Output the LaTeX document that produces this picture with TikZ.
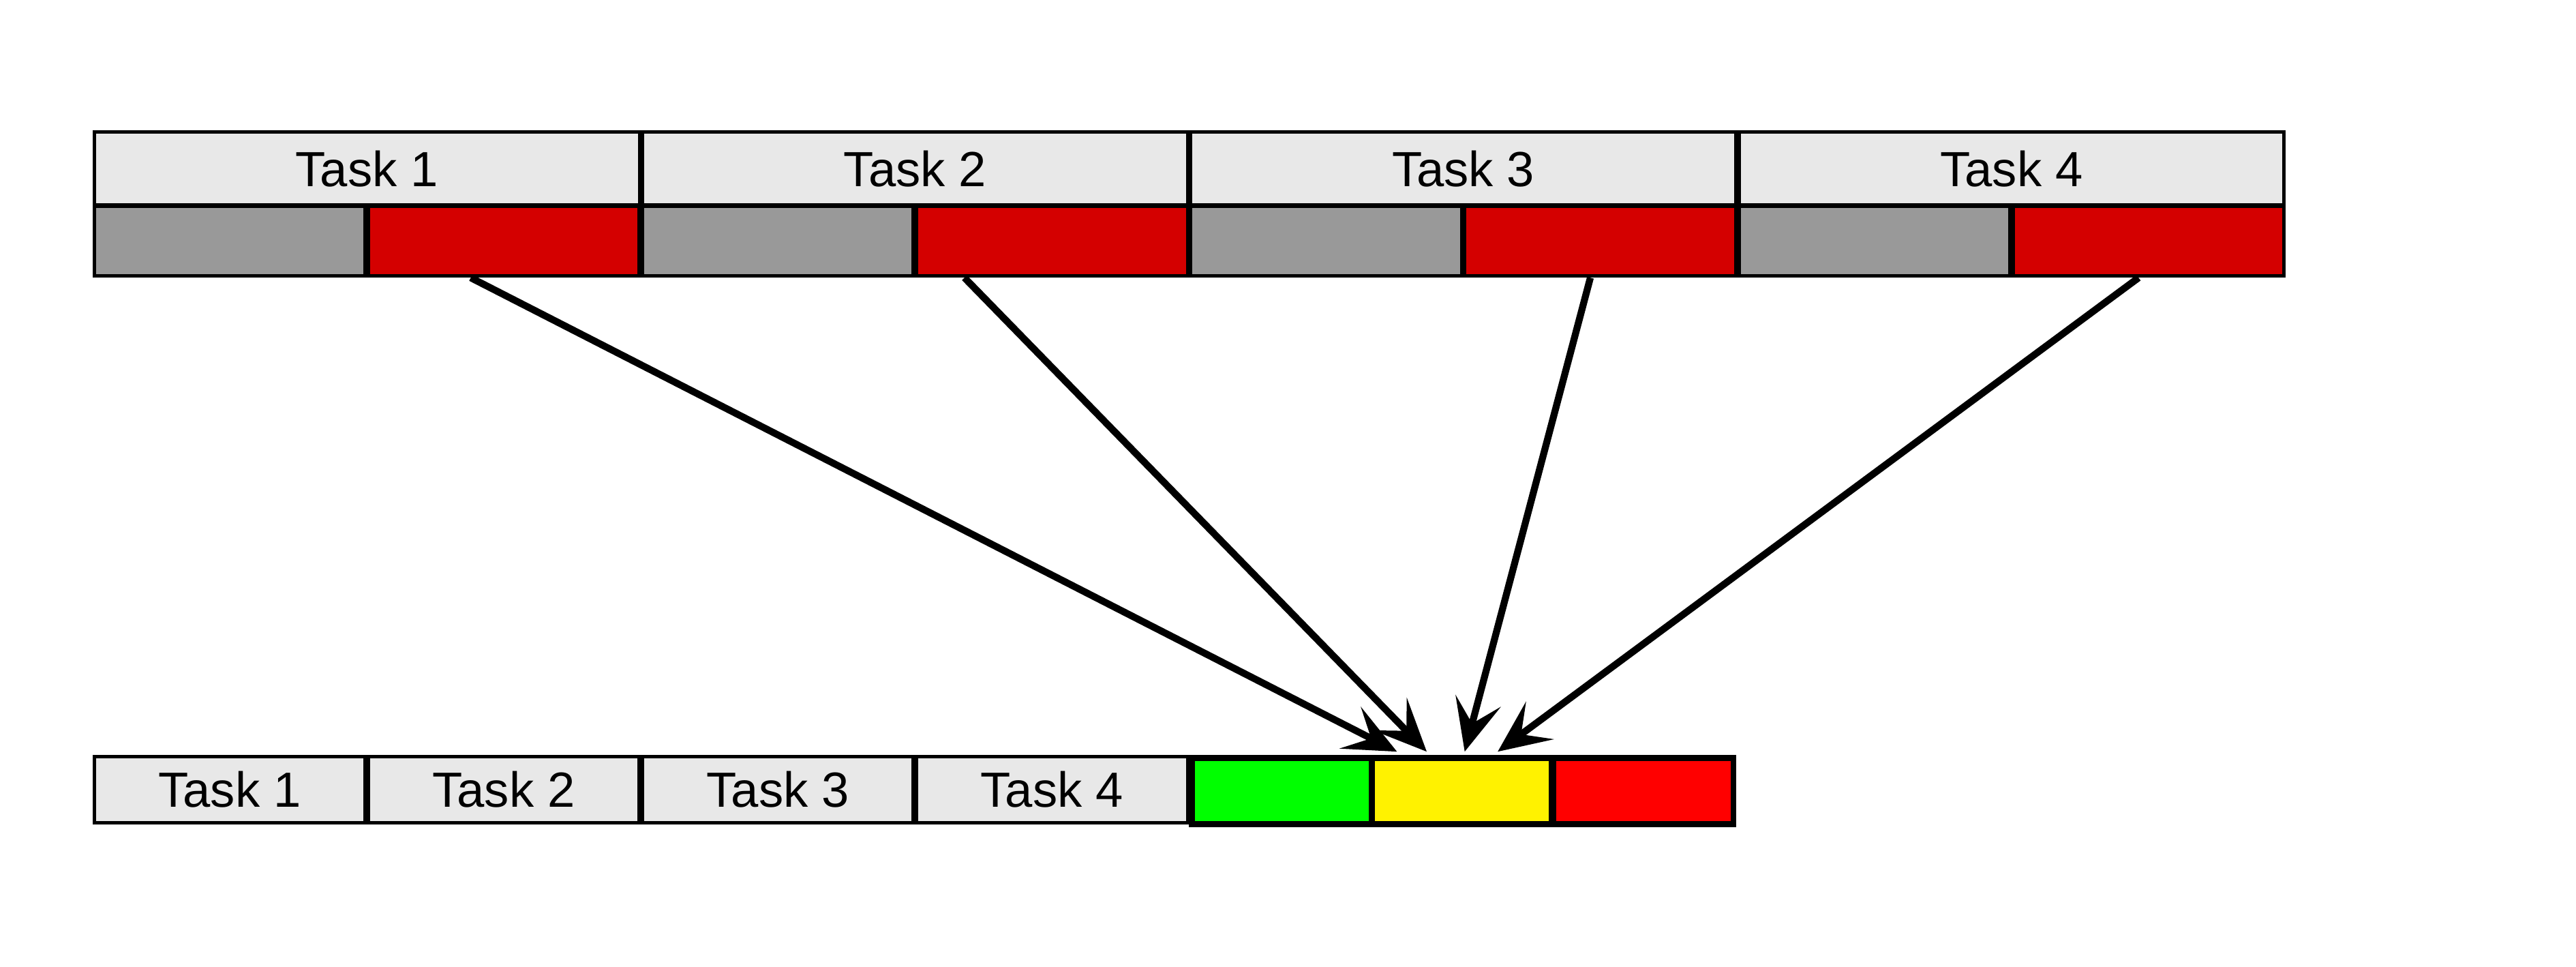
\documentclass[tikz,border=0pt]{standalone}
\usepackage{fontspec}
\setmainfont{Liberation Sans}
\usetikzlibrary{arrows.meta}
\begin{document}
\begin{tikzpicture}[x=0.01cm,y=-0.01cm,
  cell/.style={draw=black,line width=0.6pt,anchor=north west,inner sep=0pt,font=\fontsize{8.5}{10}\selectfont},
  hd/.style={cell,fill=gray!18,minimum width=3.3cm,minimum height=0.44cm},
  sub/.style={cell,minimum width=1.64cm,minimum height=0.42cm},
  bt/.style={cell,fill=gray!18,minimum width=1.64cm,minimum height=0.40cm},
  col/.style={cell,line width=1pt,minimum width=1.09cm,minimum height=0.40cm},
  arr/.style={line width=1.2pt,-{Stealth[length=9pt,width=8pt,inset=4pt]}}]
\useasboundingbox (0,0) rectangle (1560,585);
\foreach \i/\x in {1/56,2/388,3/720,4/1052}{
  \node[hd] (t\i) at (\x,79) {Task \i};
  \node[sub,fill=gray!80] (g\i) at (\x,124) {};
  \node[sub,fill={rgb,255:red,212;green,0;blue,0}] (r\i) at (\x+166,124) {};
}
\foreach \i/\x in {1/56,2/222,3/388,4/554}{
  \node[bt] (b\i) at (\x,457) {Task \i};
}
\node[col,fill={rgb,255:red,0;green,255;blue,0}] (cg) at (720,457) {};
\node[col,fill=yellow] (cy) at (829,457) {};
\node[col,fill=red] (cr) at (939,457) {};
\coordinate (e1) at (846,455);
\coordinate (e2) at (864,455);
\coordinate (e3) at (887,455);
\coordinate (e4) at (907,455);
\draw[arr] ([xshift=-0.2cm]r1.south) -- (e1);
\draw[arr] ([xshift=-0.53cm]r2.south) -- (e2);
\draw[arr] ([xshift=-0.06cm]r3.south) -- (e3);
\draw[arr] ([xshift=-0.06cm]r4.south) -- (e4);
\end{tikzpicture}
\end{document}
